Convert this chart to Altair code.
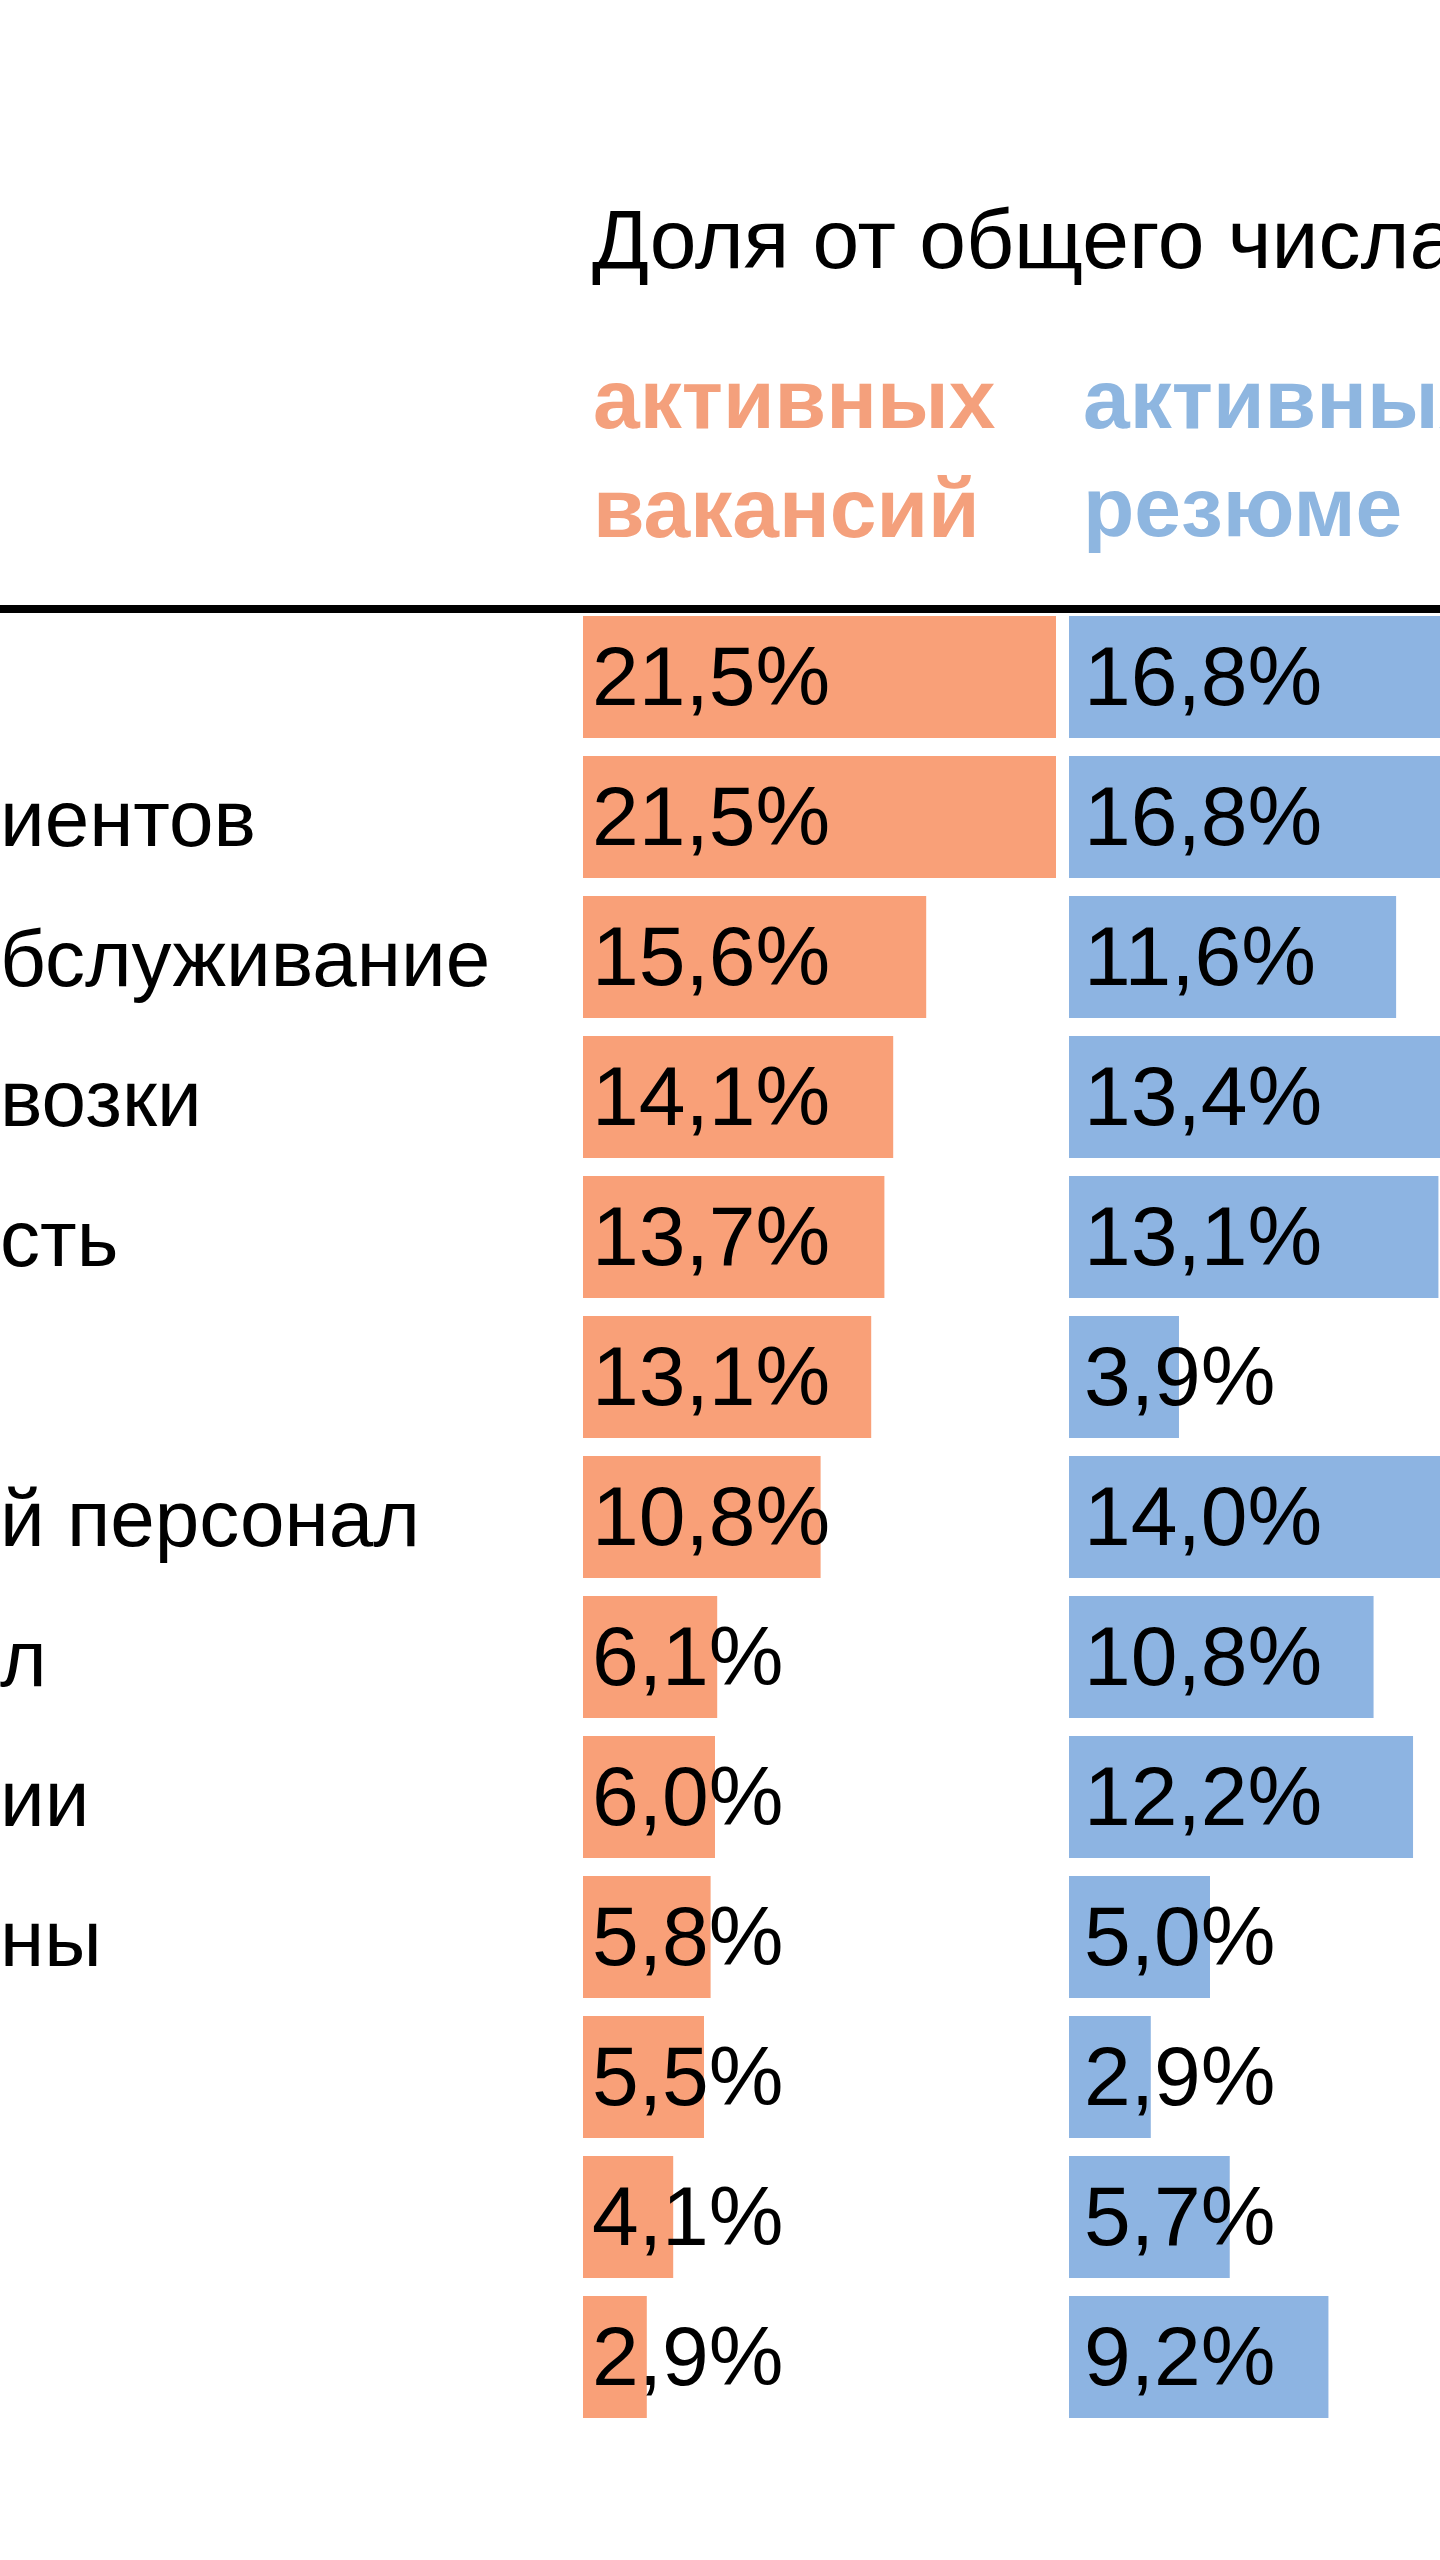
import altair as alt
import pandas as pd

# ---- data ----
rows = [f"r{i}" for i in range(1, 14)]
row_labels = ["", "иентов", "бслуживание", "возки", "сть", "", "й персонал",
              "л", "ии", "ны", "", "", ""]
vacancies = [21.5, 21.5, 15.6, 14.1, 13.7, 13.1, 10.8, 6.1, 6.0, 5.8, 5.5, 4.1, 2.9]
resumes = [16.8, 16.8, 11.6, 13.4, 13.1, 3.9, 14.0, 10.8, 12.2, 5.0, 2.9, 5.7, 9.2]

title_text = "Доля от общего числа"
head_vac = ["активных", "вакансий"]
head_res = ["активных", "резюме"]

ORANGE = "#F9A078"
BLUE = "#8DB4E2"
ORANGE_TXT = "#F4A07C"
BLUE_TXT = "#8EB6E0"
FONT = "Liberation Sans"


def fmt(v):
    return f"{v:.1f}".replace(".", ",") + "%"


df = pd.DataFrame({
    "row": rows,
    "label": row_labels,
    "vac": vacancies,
    "res": resumes,
    "vac_t": [fmt(v) for v in vacancies],
    "res_t": [fmt(v) for v in resumes],
})

yscale = alt.Scale(domain=rows, range=[607, 2427], paddingInner=0.13, paddingOuter=0.065)
Y = alt.Y("row:N", scale=yscale, axis=None, sort=rows)

base = alt.Chart(df)

bar_vac = base.mark_bar(color=ORANGE).encode(
    x=alt.X("vac:Q", scale=alt.Scale(domain=[0, 10], range=[583, 803], nice=False), axis=None),
    y=Y,
)
bar_res = base.mark_bar(color=BLUE).encode(
    x=alt.X("res:Q", scale=alt.Scale(domain=[0, 10], range=[1069, 1351], nice=False), axis=None),
    y=Y,
)

txt_vac = base.mark_text(align="left", baseline="middle", dy=3, fontSize=84,
                         font=FONT, color="black").encode(
    x=alt.value(592), y=Y, text="vac_t:N")
txt_res = base.mark_text(align="left", baseline="middle", dy=3, fontSize=84,
                         font=FONT, color="black").encode(
    x=alt.value(1084), y=Y, text="res_t:N")
txt_lab = base.mark_text(align="left", baseline="middle", dy=5, fontSize=80,
                         font=FONT, color="black").encode(
    x=alt.value(0), y=Y, text="label:N")

rule = alt.Chart(pd.DataFrame({"a": [0]})).mark_rule(color="black", strokeWidth=8).encode(
    x=alt.value(0), x2=alt.value(1440), y=alt.value(609))


def header(text, x, y, color, bold):
    return alt.Chart(pd.DataFrame({"t": [text]})).mark_text(
        align="left", baseline="alphabetic", fontSize=84, font=FONT,
        fontWeight="bold" if bold else "normal", color=color,
    ).encode(x=alt.value(x), y=alt.value(y), text="t:N")


headers = [
    header(title_text, 592, 268, "black", False),
    header(head_vac[0], 593, 428, ORANGE_TXT, True),
    header(head_vac[1], 593, 537, ORANGE_TXT, True),
    header(head_res[0], 1083, 428, BLUE_TXT, True),
    header(head_res[1], 1083, 536, BLUE_TXT, True),
]

chart = alt.layer(
    bar_vac, bar_res, txt_vac, txt_res, txt_lab, rule, *headers
).resolve_scale(x="independent").properties(
    width=1440, height=2560, padding=0,
    autosize=alt.AutoSizeParams(type="none"),
    background="white",
).configure_view(strokeWidth=0)

chart.save("out.html", embed_options={"renderer": "svg", "actions": False})
